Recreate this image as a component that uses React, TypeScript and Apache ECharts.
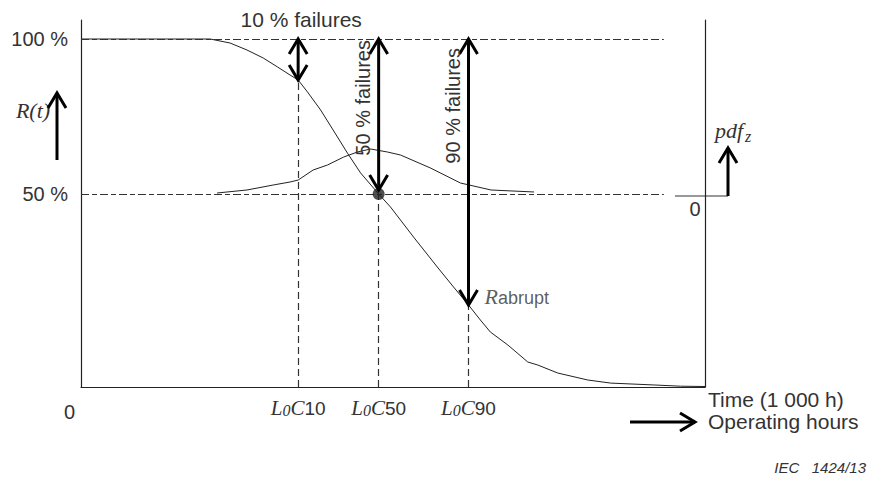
import React, { useEffect, useRef } from "react";
import * as echarts from "echarts";

// ---- data (x: time in arbitrary units 0..100, y: reliability in %) ----
const X_MAX = 100;
const Y_MIN = -12.26;
const Y_MAX = 106.13;

const reliabilityX = [0, 20.7, 23.9, 26.6, 29.2, 31.5, 33.5, 34.8, 36.3, 38.4, 40.4, 42.7, 44.8, 47.7, 49.6, 53.3, 57.1, 59.7, 62.1, 64.0, 65.6, 68.4, 71.6, 73.2, 76.4, 81.2, 84.9, 91.8, 96.1, 100];
const reliabilityY = [100, 100, 98.7, 96.45, 93.87, 90.97, 88.39, 86.77, 82.9, 77.1, 70.65, 63.2, 56.8, 50.0, 45.8, 36.1, 26.45, 20.0, 14.19, 9.35, 5.48, 1.29, -4.2, -5.17, -7.75, -10.0, -11.0, -11.6, -12.0, -12.1];

const pdfX = [21.8, 26.6, 30.8, 33.5, 34.8, 37.2, 39.5, 42.1, 44.3, 46.4, 49.1, 51.2, 56.0, 60.8, 65.7, 72.6];
const pdfY = [50.32, 51.29, 52.9, 53.87, 54.5, 57.74, 59.35, 61.93, 63.55, 64.52, 63.55, 62.58, 58.39, 53.55, 51.29, 50.65];

const markerNames = ["10", "50", "90"];
const markerX = [34.8, 47.7, 62.1];
const markerR = [86.77, 50.0, 14.19];

const arrowTopY = [100, 100, 100];
const arrowBottomY = [86.77, 51.3, 14.19];
const arrowLabels = ["10 % failures", "50 % failures", "90 % failures"];

const refLevels = [100, 50];
const refLevelLabels = ["100 %", "50 %"];
const REF_END_X = 93.4;

const SANS = "Liberation Sans, Arial, sans-serif";
const SERIF = "Liberation Serif, Times New Roman, serif";
const TEXT = "#333";

export default function App() {
  const ref = useRef<HTMLDivElement>(null);

  useEffect(() => {
    document.body.style.margin = "0";
    if (!ref.current) return;
    const chart = echarts.init(ref.current, null, { renderer: "svg" });

    const rData = reliabilityX.map((x, i) => [x, reliabilityY[i]]);
    const pData = pdfX.map((x, i) => [x, pdfY[i]]);
    const arrowData = markerX.map((x, i) => [x, arrowTopY[i], arrowBottomY[i]]);

    const vMarks = markerX.map((x, i) => [
      { coord: [x, Y_MIN], name: markerNames[i] },
      { coord: [x, markerR[i]] },
    ]);
    const hMarks = refLevels.map((y, i) => [
      { coord: [0, y], name: refLevelLabels[i] },
      { coord: [REF_END_X, y] },
    ]);

    const arrowStyle = { stroke: "#000", lineWidth: 3, fill: "none" };

    const option: any = {
      animation: false,
      grid: { left: 81, top: 20, right: 166, bottom: 95, outerBoundsMode: "none" },
      xAxis: {
        type: "value",
        min: 0,
        max: X_MAX,
        interval: X_MAX,
        axisLine: { show: true, onZero: false, lineStyle: { color: "#222", width: 1.2 } },
        axisTick: { show: false },
        splitLine: { show: false },
        axisLabel: {
          formatter: (v: number) => (v === 0 ? "0" : ""),
          align: "right",
          padding: [0, 6, 0, 0],
          margin: 15,
          fontSize: 20,
          fontFamily: SANS,
          color: TEXT,
        },
      },
      yAxis: [
        {
          type: "value",
          min: Y_MIN,
          max: Y_MAX,
          position: "left",
          axisLine: { show: true, onZero: false, lineStyle: { color: "#222", width: 1.2 } },
          axisTick: { show: false },
          axisLabel: { show: false },
          splitLine: { show: false },
        },
        {
          type: "value",
          min: Y_MIN,
          max: Y_MAX,
          position: "right",
          axisLine: { show: true, onZero: false, lineStyle: { color: "#222", width: 1.2 } },
          axisTick: { show: false },
          axisLabel: { show: false },
          splitLine: { show: false },
        },
      ],
      series: [
        {
          name: "R(t)",
          type: "line",
          data: rData,
          showSymbol: false,
          symbol: "none",
          lineStyle: { color: "#222", width: 1 },
          markLine: {
            silent: true,
            symbol: ["none", "none"],
            lineStyle: { color: "#333", width: 1.2, type: [7, 4] },
            label: {
              show: true,
              position: "start",
              distance: 10,
              formatter: (p: any) => `{l|L}{z|0}{c|C}{n|${p.name}}`,
              rich: {
                l: { fontFamily: SERIF, fontStyle: "italic", fontSize: 21, color: TEXT, verticalAlign: "bottom" },
                z: { fontFamily: SERIF, fontStyle: "italic", fontSize: 16, color: TEXT, verticalAlign: "bottom" },
                c: { fontFamily: SERIF, fontStyle: "italic", fontSize: 21, color: TEXT, verticalAlign: "bottom" },
                n: { fontFamily: SANS, fontSize: 19, color: TEXT, verticalAlign: "bottom" },
              },
            },
            data: vMarks,
          },
        },
        {
          name: "pdf",
          type: "line",
          data: pData,
          showSymbol: false,
          symbol: "none",
          lineStyle: { color: "#222", width: 1 },
          markLine: {
            silent: true,
            symbol: ["none", "none"],
            lineStyle: { color: "#333", width: 1.2, type: [8, 3, 5, 3] },
            label: {
              show: true,
              position: "start",
              distance: 13,
              formatter: (p: any) => p.name,
              fontSize: 20,
              fontFamily: SANS,
              color: TEXT,
            },
            data: hMarks,
          },
        },
        {
          name: "median",
          type: "scatter",
          data: [[markerX[1], markerR[1]]],
          symbolSize: 12,
          itemStyle: { color: "#222" },
          z: 5,
        },
        {
          name: "abrupt",
          type: "scatter",
          data: [[markerX[2], markerR[2]]],
          symbolSize: 0,
          label: {
            show: true,
            position: "right",
            distance: 16,
            offset: [0, -9],
            formatter: "{r|R}{s|abrupt}",
            rich: {
              r: { fontFamily: SERIF, fontStyle: "italic", fontSize: 22, color: TEXT, verticalAlign: "bottom" },
              s: { fontFamily: SANS, fontSize: 18, color: TEXT, verticalAlign: "bottom" },
            },
          },
        },
        {
          name: "arrows",
          type: "custom",
          data: arrowData,
          z: 6,
          renderItem: (params: any, api: any) => {
            const x = api.value(0);
            const p1 = api.coord([x, api.value(1)]);
            const p2 = api.coord([x, api.value(2)]);
            const hw = 9;
            const hl = 15;
            const idx = params.dataIndex;
            const children: any[] = [
              { type: "line", shape: { x1: p1[0], y1: p1[1], x2: p2[0], y2: p2[1] }, style: arrowStyle },
              {
                type: "polyline",
                shape: { points: [[p1[0] - hw, p1[1] + hl], [p1[0], p1[1]], [p1[0] + hw, p1[1] + hl]] },
                style: arrowStyle,
              },
              {
                type: "polyline",
                shape: { points: [[p2[0] - hw, p2[1] - hl], [p2[0], p2[1]], [p2[0] + hw, p2[1] - hl]] },
                style: arrowStyle,
              },
            ];
            if (idx === 0) {
              children.push({
                type: "text",
                x: p1[0] + 3,
                y: p1[1] - 20,
                style: {
                  text: arrowLabels[idx],
                  fontSize: 21,
                  fontFamily: SANS,
                  fill: TEXT,
                  align: "center",
                  verticalAlign: "middle",
                },
              });
            } else {
              children.push({
                type: "text",
                x: p1[0] - 16,
                y: p1[1] + (idx === 2 ? 9 : 1),
                rotation: Math.PI / 2,
                style: {
                  text: arrowLabels[idx],
                  fontSize: 20,
                  fontFamily: SANS,
                  fill: TEXT,
                  align: "right",
                  verticalAlign: "middle",
                },
              });
            }
            return { type: "group", children };
          },
        },
      ],
      graphic: [
        // R(t) label and arrow
        {
          type: "text",
          x: 33,
          y: 110,
          style: { text: "R(t)", fontFamily: SERIF, fontStyle: "italic", fontSize: 22, fill: TEXT, align: "center", verticalAlign: "middle" },
        },
        { type: "line", shape: { x1: 57, y1: 160, x2: 57, y2: 93 }, style: arrowStyle },
        { type: "polyline", shape: { points: [[48, 108], [57, 93], [66, 108]] }, style: arrowStyle },
        // pdf label and arrow
        {
          type: "text",
          x: 715,
          y: 130,
          style: { text: "pdf", fontFamily: SERIF, fontStyle: "italic", fontSize: 22, fill: TEXT, align: "left", verticalAlign: "middle" },
        },
        {
          type: "text",
          x: 745,
          y: 136,
          style: { text: "z", fontFamily: SERIF, fontStyle: "italic", fontSize: 16, fill: TEXT, align: "left", verticalAlign: "middle" },
        },
        { type: "line", shape: { x1: 675, y1: 196, x2: 728, y2: 196 }, style: { stroke: "#333", lineWidth: 1.2 } },
        { type: "line", shape: { x1: 728, y1: 196, x2: 728, y2: 148 }, style: arrowStyle },
        { type: "polyline", shape: { points: [[719, 163], [728, 148], [737, 163]] }, style: arrowStyle },
        {
          type: "text",
          x: 695,
          y: 209,
          style: { text: "0", fontFamily: SANS, fontSize: 20, fill: TEXT, align: "center", verticalAlign: "middle" },
        },
        // time axis annotation
        { type: "line", shape: { x1: 630, y1: 422, x2: 695, y2: 422 }, style: arrowStyle },
        { type: "polyline", shape: { points: [[680, 413], [695, 422], [680, 431]] }, style: arrowStyle },
        {
          type: "text",
          x: 708,
          y: 399,
          style: { text: "Time (1 000 h)", fontFamily: SANS, fontSize: 21, fill: TEXT, align: "left", verticalAlign: "middle" },
        },
        {
          type: "text",
          x: 708,
          y: 421,
          style: { text: "Operating hours", fontFamily: SANS, fontSize: 21, fill: TEXT, align: "left", verticalAlign: "middle" },
        },
        {
          type: "text",
          x: 866,
          y: 467,
          style: { text: "IEC   1424/13", fontFamily: SANS, fontStyle: "italic", fontSize: 15, fill: TEXT, align: "right", verticalAlign: "middle" },
        },
      ],
    };

    chart.setOption(option);
    return () => chart.dispose();
  }, []);

  return <div ref={ref} style={{ width: 871, height: 482 }} />;
}
